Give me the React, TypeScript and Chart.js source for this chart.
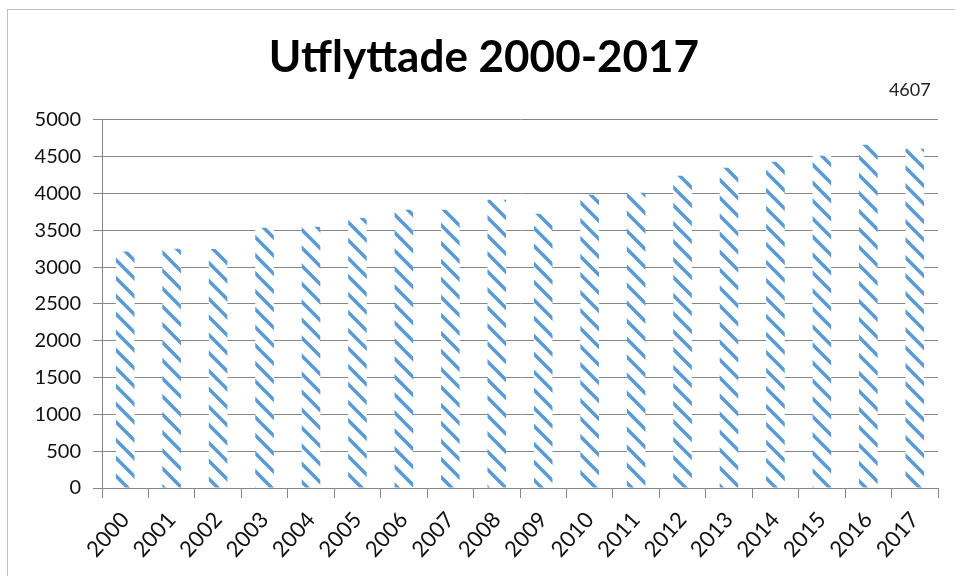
import React, { useEffect, useRef } from "react";
import { Chart, registerables } from "chart.js";

Chart.register(...registerables);

const years = ["2000","2001","2002","2003","2004","2005","2006","2007","2008","2009","2010","2011","2012","2013","2014","2015","2016","2017"];
const utflyttade = [3210, 3250, 3245, 3533, 3546, 3668, 3777, 3777, 3913, 3723, 3981, 4008, 4239, 4348, 4429, 4511, 4660, 4607];
const titleText = "Utflyttade 2000-2017";
const yMax = 5000;
const yStep = 500;

const FONT = "Lato, 'Open Sans', sans-serif";

function makePattern(): CanvasPattern | string {
  const size = 18;
  const c = document.createElement("canvas");
  c.width = size;
  c.height = size;
  const g = c.getContext("2d");
  if (!g) return "#5B9BD5";
  g.fillStyle = "#ffffff";
  g.fillRect(0, 0, size, size);
  g.strokeStyle = "#5B9BD5";
  g.lineWidth = 3.6;
  g.beginPath();
  g.moveTo(-2, -2);
  g.lineTo(size + 2, size + 2);
  g.moveTo(-2 - size, -2);
  g.lineTo(2, size + 2);
  g.moveTo(size - 2, -2);
  g.lineTo(2 * size + 2, size + 2);
  g.stroke();
  const p = g.createPattern(c, "repeat");
  return p || "#5B9BD5";
}

const decorPlugin = {
  id: "decor",
  afterDraw(chart: any) {
    const ctx = chart.ctx;
    ctx.save();
    ctx.strokeStyle = "#bfbfbf";
    ctx.lineWidth = 1;
    ctx.strokeRect(7.5, 9.5, 1000, 1000);
    const meta = chart.getDatasetMeta(0);
    const last = meta.data[meta.data.length - 1];
    const val = chart.data.datasets[0].data[meta.data.length - 1];
    ctx.fillStyle = "#222222";
    ctx.font = "18px " + FONT;
    ctx.textAlign = "center";
    ctx.textBaseline = "middle";
    ctx.fillText(String(val), last.x - 5, chart.chartArea.top - 30);
    ctx.restore();
  },
};

export default function App() {
  const ref = useRef<HTMLCanvasElement | null>(null);
  useEffect(() => {
    document.body.style.margin = "0";
    const canvas = ref.current;
    if (!canvas) return;
    const chart = new Chart(canvas, {
      type: "bar",
      data: {
        labels: years,
        datasets: [
          {
            data: utflyttade,
            backgroundColor: makePattern() as any,
            borderWidth: 0,
            barPercentage: 0.4,
            categoryPercentage: 1,
          },
        ],
      },
      options: {
        animation: false,
        responsive: false,
        layout: { padding: { left: 30, right: 17, top: 0, bottom: 0 } },
        plugins: {
          legend: { display: false },
          tooltip: { enabled: false },
          title: {
            display: true,
            text: titleText,
            color: "#000000",
            font: { family: FONT, size: 44, weight: "bold" },
            padding: { top: 31, bottom: 36 },
          },
        },
        scales: {
          x: {
            offset: true,
            grid: {
              offset: true,
              drawOnChartArea: false,
              drawTicks: true,
              tickLength: 10,
              color: "#868686",
            },
            border: { color: "#868686" },
            ticks: {
              color: "#111111",
              font: { family: FONT, size: 22 },
              minRotation: 48,
              maxRotation: 48,
              autoSkip: false,
              padding: 9,
            },
            afterFit(scale: any) {
              scale.height = 88;
            },
          },
          y: {
            min: 0,
            max: yMax,
            grid: { color: "#868686", tickLength: 9 },
            border: { color: "#868686" },
            ticks: {
              stepSize: yStep,
              color: "#111111",
              font: { family: FONT, size: 20 },
              padding: 12,
              callback: (v: any) => String(v),
            },
            afterFit(scale: any) {
              scale.width = 72;
            },
          },
        },
      },
      plugins: [decorPlugin],
    } as any);
    return () => chart.destroy();
  }, []);
  return (
    <div style={{ width: 955, height: 576, background: "#ffffff" }}>
      <canvas ref={ref} width={955} height={576} />
    </div>
  );
}
